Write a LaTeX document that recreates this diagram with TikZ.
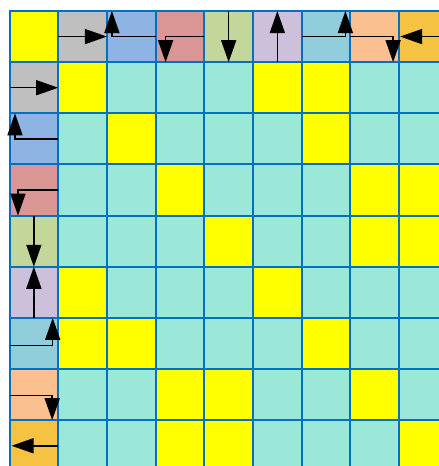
\documentclass[tikz,border=0pt]{standalone}
\usetikzlibrary{arrows.meta,calc}
\definecolor{gridblue}{HTML}{0070C0}
\definecolor{cy}{HTML}{FFFF00}
\definecolor{cl}{HTML}{9BE7D8}
\definecolor{hgry}{HTML}{BFBFBF}
\definecolor{hblu}{HTML}{8DB4E2}
\definecolor{hred}{HTML}{DA9694}
\definecolor{hgrn}{HTML}{C4D79B}
\definecolor{hpur}{HTML}{CCC0DA}
\definecolor{htea}{HTML}{92CDDC}
\definecolor{hpea}{HTML}{FAC090}
\definecolor{hora}{HTML}{F5C242}
\begin{document}
\begin{tikzpicture}[x=1pt,y=-1pt,
  cell/.style={draw=gridblue,line width=2pt,minimum width=48.7pt,minimum height=51.15pt,
    inner sep=0pt,outer sep=0pt,anchor=north west},
  arr/.style={line width=1.5pt,-{Triangle[length=22pt,width=15pt]}}]
\useasboundingbox (0,0) rectangle (439,466);
\clip (0,0) rectangle (439,466);
\fill[white] (0,0) rectangle (439,466);
\foreach \c [count=\j from 0] in {cy,hgry,hblu,hred,hgrn,hpur,htea,hpea,hora}
  \node[cell,fill=\c] (c-0-\j) at ({9.5+48.7*\j},11) {};
\foreach \c [count=\j from 0] in {hgry,cy,cl,cl,cl,cy,cy,cl,cl}
  \node[cell,fill=\c] (c-1-\j) at ({9.5+48.7*\j},{11+51.15*1}) {};
\foreach \c [count=\j from 0] in {hblu,cl,cy,cl,cl,cl,cy,cl,cl}
  \node[cell,fill=\c] (c-2-\j) at ({9.5+48.7*\j},{11+51.15*2}) {};
\foreach \c [count=\j from 0] in {hred,cl,cl,cy,cl,cl,cl,cy,cy}
  \node[cell,fill=\c] (c-3-\j) at ({9.5+48.7*\j},{11+51.15*3}) {};
\foreach \c [count=\j from 0] in {hgrn,cl,cl,cl,cy,cl,cl,cy,cy}
  \node[cell,fill=\c] (c-4-\j) at ({9.5+48.7*\j},{11+51.15*4}) {};
\foreach \c [count=\j from 0] in {hpur,cy,cl,cl,cl,cy,cl,cl,cl}
  \node[cell,fill=\c] (c-5-\j) at ({9.5+48.7*\j},{11+51.15*5}) {};
\foreach \c [count=\j from 0] in {htea,cy,cy,cl,cl,cl,cy,cl,cl}
  \node[cell,fill=\c] (c-6-\j) at ({9.5+48.7*\j},{11+51.15*6}) {};
\foreach \c [count=\j from 0] in {hpea,cl,cl,cy,cy,cl,cl,cy,cl}
  \node[cell,fill=\c] (c-7-\j) at ({9.5+48.7*\j},{11+51.15*7}) {};
\foreach \c [count=\j from 0] in {hora,cl,cl,cy,cy,cl,cl,cl,cy}
  \node[cell,fill=\c] (c-8-\j) at ({9.5+48.7*\j},{11+51.15*8}) {};
% header row arrows
\draw[arr] (c-0-1.west) -- (c-0-1.east);
\draw[arr] (c-0-2.east) -- ($(c-0-2.west)+(5,0)$) -- ($(c-0-2.north west)+(5,0)$);
\draw[arr] (c-0-3.east) -- ($(c-0-3.west)+(10,0)$) -- ($(c-0-3.south west)+(10,0)$);
\draw[arr] (c-0-4.north) -- (c-0-4.south);
\draw[arr] (c-0-5.south) -- (c-0-5.north);
\draw[arr] (c-0-6.west) -- ($(c-0-6.east)+(-5,0)$) -- ($(c-0-6.north east)+(-5,0)$);
\draw[arr] (c-0-7.west) -- ($(c-0-7.east)+(-6,0)$) -- ($(c-0-7.south east)+(-6,0)$);
\draw[arr] (c-0-8.east) -- ($(c-0-8.west)+(1,0)$);
% header column arrows
\draw[arr] (c-1-0.west) -- (c-1-0.east);
\draw[arr] (c-2-0.east) -- ($(c-2-0.west)+(5.5,0)$) -- ($(c-2-0.north west)+(5.5,0)$);
\draw[arr] (c-3-0.east) -- ($(c-3-0.west)+(8.5,0)$) -- ($(c-3-0.south west)+(8.5,0)$);
\draw[arr] (c-4-0.north) -- (c-4-0.south);
\draw[arr] (c-5-0.south) -- (c-5-0.north);
\draw[arr] ($(c-6-0.west)+(0,2)$) -- ($(c-6-0.east)+(-5.5,2)$) -- ($(c-6-0.north east)+(-5.5,0)$);
\draw[arr] ($(c-7-0.west)+(0,1)$) -- ($(c-7-0.east)+(-6,1)$) -- ($(c-7-0.south east)+(-6,0)$);
\draw[arr] (c-8-0.east) -- ($(c-8-0.west)+(2,0)$);
\end{tikzpicture}
\end{document}
